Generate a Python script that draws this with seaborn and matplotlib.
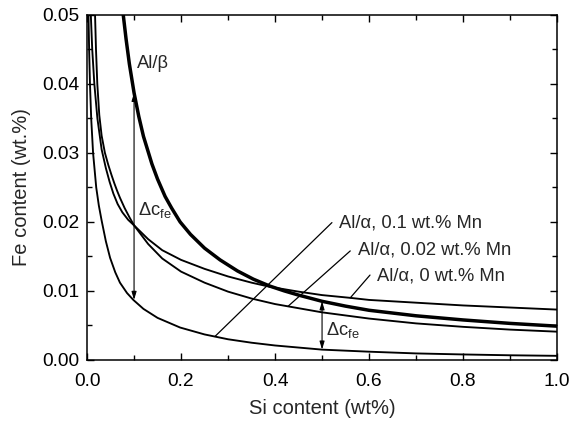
import matplotlib
matplotlib.use("Agg")
import matplotlib.pyplot as plt
import seaborn as sns
import pandas as pd
from matplotlib.ticker import MultipleLocator, FormatStrFormatter

# Solubility curves: Fe content (wt.%) vs Si content (wt%)
si_beta = [0.077, 0.083, 0.09, 0.1, 0.11, 0.12, 0.138, 0.15, 0.166, 0.18, 0.198,
           0.22, 0.25, 0.283, 0.32, 0.354, 0.389, 0.42, 0.45, 0.5, 0.55, 0.6,
           0.7, 0.8, 0.9, 1.0]
fe_beta = [0.0500, 0.0465, 0.0429, 0.0387, 0.0353, 0.0324, 0.0284, 0.0262, 0.0237,
           0.0220, 0.0200, 0.0182, 0.0162, 0.0145, 0.0129, 0.0117, 0.0107, 0.0100,
           0.0094, 0.0085, 0.0078, 0.0072, 0.0064, 0.0058, 0.0053, 0.0049]

si_mn0 = [0.008, 0.011, 0.0155, 0.022, 0.031, 0.04, 0.048, 0.056, 0.065, 0.075,
          0.0875, 0.1, 0.13, 0.16, 0.2, 0.25, 0.3, 0.35, 0.389, 0.45, 0.5, 0.56,
          0.6, 0.7, 0.8, 0.9, 1.0]
fe_mn0 = [0.0500, 0.0450, 0.0400, 0.0350, 0.0305, 0.0278, 0.0258, 0.0241, 0.0226,
          0.0214, 0.0203, 0.0195, 0.0175, 0.0159, 0.0145, 0.0132, 0.0121, 0.0112,
          0.0106, 0.0099, 0.0094, 0.0090, 0.0087, 0.0083, 0.0079, 0.0076, 0.0073]

si_mn002 = [0.017, 0.019, 0.0218, 0.026, 0.031, 0.038, 0.045, 0.052, 0.058, 0.064,
            0.07, 0.08, 0.09, 0.1, 0.13, 0.16, 0.2, 0.25, 0.3, 0.35, 0.4, 0.45,
            0.5, 0.6, 0.7, 0.8, 0.9, 1.0]
fe_mn002 = [0.0500, 0.0450, 0.0400, 0.0355, 0.0325, 0.0300, 0.0283, 0.0268, 0.0256,
            0.0245, 0.0235, 0.0220, 0.0207, 0.0195, 0.0168, 0.0147, 0.0128, 0.0112,
            0.0099, 0.0089, 0.0081, 0.0075, 0.0069, 0.0060, 0.0053, 0.0048, 0.0044,
            0.0041]

si_mn01 = [0.003, 0.0044, 0.0062, 0.0088, 0.0128, 0.0195, 0.025, 0.031, 0.04,
           0.049, 0.06, 0.07, 0.085, 0.0985, 0.12, 0.15, 0.198, 0.25, 0.3, 0.35,
           0.4, 0.5, 0.6, 0.7, 0.8, 0.9, 1.0]
fe_mn01 = [0.0500, 0.0450, 0.0400, 0.0350, 0.0300, 0.0250, 0.0224, 0.0202, 0.0172,
           0.0148, 0.0127, 0.0112, 0.0097, 0.0087, 0.0074, 0.0061, 0.0047, 0.0037,
           0.0030, 0.0025, 0.0021, 0.0015, 0.0012, 0.00095, 0.0008, 0.00068,
           0.0006]

# Delta c_fe arrows (x, lower, upper)
dc_left = (0.1, 0.0087, 0.0387)
dc_right = (0.5, 0.0015, 0.0085)

x_ticks = [0.0, 0.2, 0.4, 0.6, 0.8, 1.0]
y_ticks = [0.00, 0.01, 0.02, 0.03, 0.04, 0.05]

sns.set_theme(style="ticks")
plt.rcParams["font.family"] = ["Liberation Sans", "DejaVu Sans"]
plt.rcParams["mathtext.fontset"] = "custom"
plt.rcParams["mathtext.rm"] = "Liberation Sans"

fig = plt.figure(figsize=(5.69, 4.24), dpi=100)
ax = fig.add_axes([0.153, 0.151, 0.826, 0.814])

curves = [
    (si_mn01, fe_mn01, 1.35),
    (si_mn002, fe_mn002, 1.35),
    (si_mn0, fe_mn0, 1.35),
    (si_beta, fe_beta, 2.5),
]
for xs, ys, lw in curves:
    df = pd.DataFrame({"si": xs, "fe": ys})
    sns.lineplot(data=df, x="si", y="fe", ax=ax, color="black", lw=lw,
                 sort=False, estimator=None)

for xa, lo, hi in (dc_left, dc_right):
    ax.annotate("", xy=(xa, hi), xytext=(xa, lo),
                arrowprops=dict(arrowstyle="<|-|>,head_length=0.4,head_width=0.12",
                                color="black", lw=0.8, shrinkA=0, shrinkB=0))

fs = 13.2
ax.text(0.106, 0.0430, "Al/β", fontsize=fs, va="center")
ax.text(0.108, 0.0217, r"$\mathregular{\Delta c_{fe}}$", fontsize=fs, va="center")
ax.text(0.509, 0.0044, r"$\mathregular{\Delta c_{fe}}$", fontsize=fs, va="center")

labels = [
    ("Al/α, 0.1 wt.% Mn", (0.537, 0.0198), (0.521, 0.0199), (0.272, 0.0034)),
    ("Al/α, 0.02 wt.% Mn", (0.576, 0.0159), (0.560, 0.0158), (0.428, 0.0078)),
    ("Al/α, 0 wt.% Mn", (0.616, 0.0122), (0.602, 0.0123), (0.560, 0.0090)),
]
for txt, tpos, p0, p1 in labels:
    ax.text(tpos[0], tpos[1], txt, fontsize=fs, va="center")
    ax.plot([p0[0], p1[0]], [p0[1], p1[1]], color="black", lw=0.9)

ax.set_xlim(0, 1.0)
ax.set_ylim(0, 0.05)
ax.set_xticks(x_ticks)
ax.set_yticks(y_ticks)
ax.xaxis.set_major_formatter(FormatStrFormatter("%.1f"))
ax.yaxis.set_major_formatter(FormatStrFormatter("%.2f"))
ax.xaxis.set_minor_locator(MultipleLocator(0.1))
ax.yaxis.set_minor_locator(MultipleLocator(0.005))
ax.tick_params(which="both", direction="in", top=True, right=True,
               labelsize=13.8, width=1.0, colors="black")
ax.tick_params(which="major", length=5)
ax.tick_params(which="minor", length=3.5)
ax.tick_params(axis="x", which="major", pad=9.5)
ax.tick_params(axis="y", which="major", pad=5.5)
for sp in ax.spines.values():
    sp.set_visible(True)
    sp.set_linewidth(1.1)
    sp.set_color("black")

ax.set_xlabel("Si content (wt%)", fontsize=14.5, labelpad=6)
ax.set_ylabel("Fe content (wt.%)", fontsize=14.5, labelpad=8)

fig.savefig("out.png", dpi=100)
